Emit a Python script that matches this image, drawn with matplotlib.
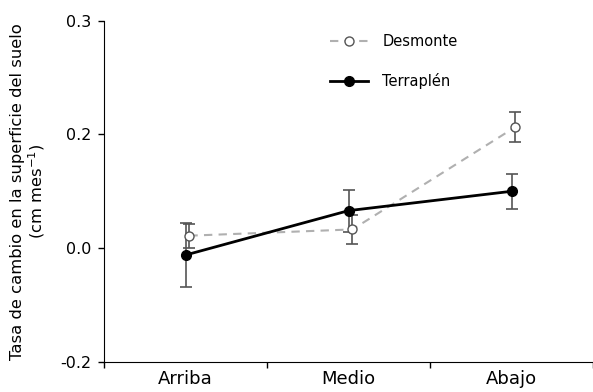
import matplotlib.pyplot as plt
import numpy as np

# posiciones en la ladera
posiciones = ["Arriba", "Medio", "Abajo"]

# tasa media de cambio (cm mes-1) y error
desmonte = [0.022, 0.033, 0.213]
desmonte_err = [0.021, 0.026, 0.027]
terraplen = [-0.012, 0.066, 0.100]
terraplen_err = [0.057, 0.037, 0.031]

yticks_pos = [-0.2, 0.0, 0.2, 0.4]
yticks_lab = ["-0.2", "0.0", "0.2", "0.3"]

x = np.arange(len(posiciones))

fig = plt.figure(figsize=(5.93, 3.92), dpi=100)
ax = fig.add_axes([0.1754, 0.0765, 0.8246, 0.871])

# barras de error
ax.errorbar(x + 0.024, desmonte, yerr=desmonte_err, fmt="none",
            ecolor="#555555", elinewidth=1.2, capsize=4, capthick=1.2, zorder=2)
ax.errorbar(x, terraplen, yerr=terraplen_err, fmt="none",
            ecolor="#555555", elinewidth=1.2, capsize=4, capthick=1.2, zorder=2)

# lineas
ax.plot(x + 0.024, desmonte, color="#b0b0b0", ls=(0, (4, 3)), lw=1.5,
        marker="o", ms=6.5, mfc="white", mec="#555555", mew=1.0, label="Desmonte", zorder=3)
ax.plot(x, terraplen, color="black", ls="-", lw=2,
        marker="o", ms=7, mfc="black", mec="black", label="Terraplén", zorder=4)

ax.set_xlim(-0.5, 2.464)
ax.set_ylim(-0.2, 0.4)

ax.set_xticks([-0.5, 0.5, 1.5, 2.5])
ax.set_xticklabels([])
ax.set_xticks(x, minor=True)
ax.set_xticklabels(posiciones, minor=True, fontsize=13)
ax.tick_params(axis="x", which="minor", length=0, pad=6)
ax.tick_params(axis="x", which="major", length=4, width=1, direction="out")

ax.set_yticks(yticks_pos)
ax.set_yticklabels(yticks_lab, fontsize=11.5)
ax.tick_params(axis="y", length=4, width=1, pad=5)

ax.spines["top"].set_visible(False)
ax.spines["right"].set_visible(False)

ax.set_ylabel("Tasa de cambio en la superficie del suelo\n(cm mes$^{-1}$)", fontsize=11.8,
              linespacing=1.05)
ax.yaxis.set_label_coords(-0.117, 0.5)

ax.legend(loc="upper left", bbox_to_anchor=(0.435, 1.0), frameon=False, fontsize=10.5,
          handlelength=2.6, handletextpad=1.0, labelspacing=1.7, numpoints=1)

fig.savefig("out.png", dpi=100)
